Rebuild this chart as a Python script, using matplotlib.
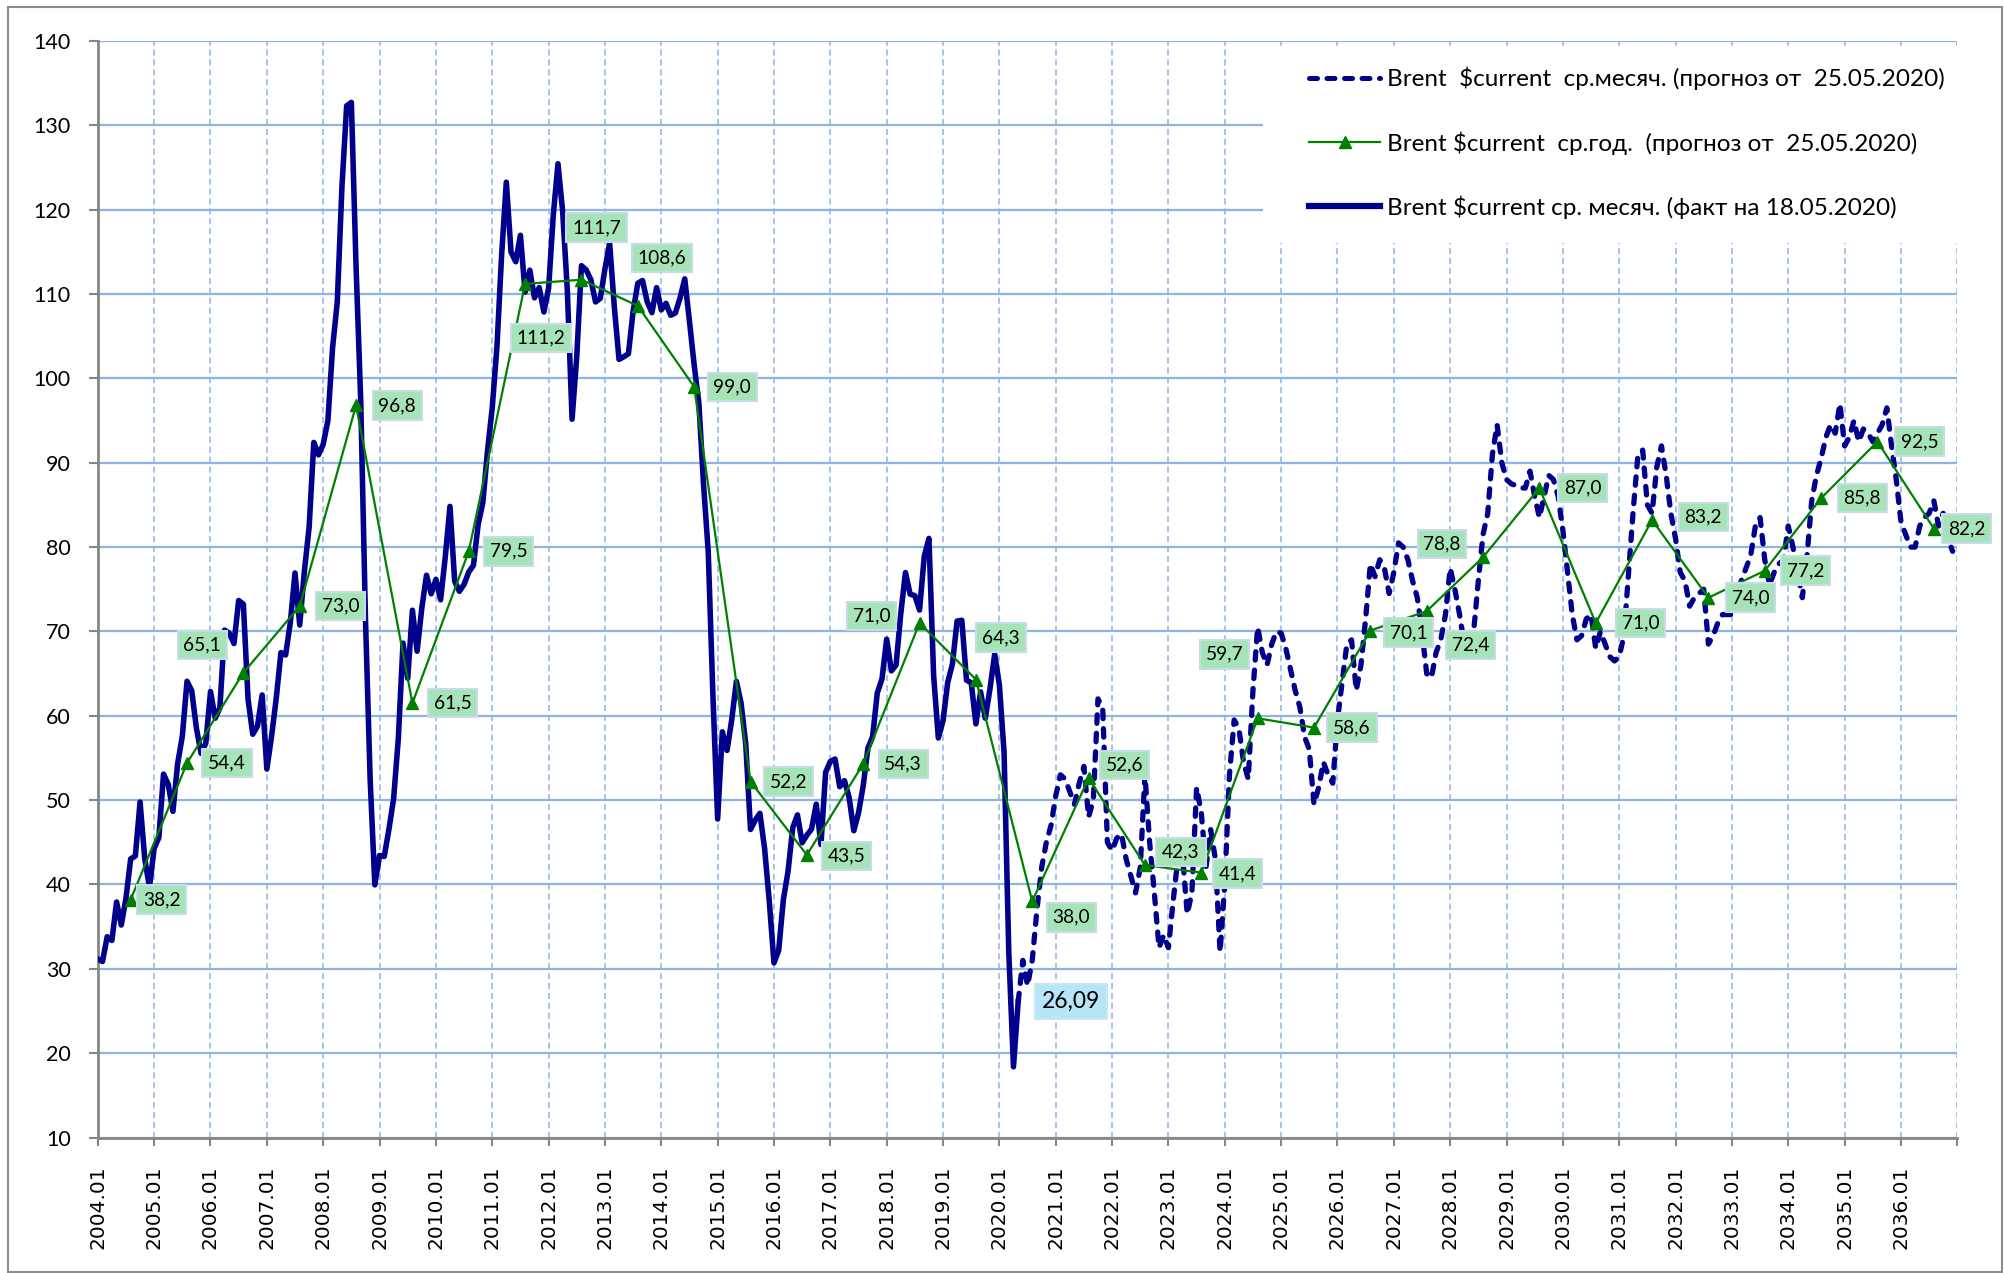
import numpy as np
import matplotlib
matplotlib.use("Agg")
import matplotlib.pyplot as plt
from matplotlib.patches import Rectangle
from matplotlib.lines import Line2D

# ---------------- data ----------------
first_year = 2004
last_year = 2036

# actual monthly Brent, 2004.01 .. 2020.05
fact_monthly = [
    31.18, 30.87, 33.80, 33.36, 37.92, 35.19, 38.37, 43.03, 43.38, 49.77, 43.05, 39.66,
    44.28, 45.56, 53.08, 51.86, 48.67, 54.31, 57.58, 64.09, 62.98, 58.52, 55.53, 56.75,
    62.87, 59.71, 60.93, 70.16, 69.78, 68.56, 73.67, 73.23, 61.96, 57.81, 58.76, 62.47,
    53.68, 57.56, 62.05, 67.49, 67.21, 71.05, 76.93, 70.76, 77.17, 82.34, 92.41, 90.93,
    92.18, 94.99, 103.64, 109.07, 122.80, 132.32, 132.72, 113.24, 97.23, 71.58, 52.45, 39.95,
    43.44, 43.32, 46.54, 50.18, 57.30, 68.61, 64.44, 72.51, 67.65, 72.77, 76.66, 74.46,
    76.17, 73.75, 78.83, 84.82, 75.95, 74.76, 75.58, 77.04, 77.84, 82.67, 85.28, 91.45,
    96.52, 103.72, 114.64, 123.26, 114.99, 113.83, 116.97, 110.22, 112.83, 109.55, 110.77, 107.87,
    110.69, 119.33, 125.45, 119.75, 110.34, 95.16, 102.62, 113.36, 112.86, 111.71, 109.06, 109.49,
    112.96, 116.05, 108.47, 102.25, 102.56, 102.92, 107.93, 111.28, 111.60, 109.08, 107.79, 110.76,
    108.12, 108.90, 107.48, 107.76, 109.54, 111.80, 106.77, 101.61, 97.09, 87.43, 79.44, 62.34,
    47.76, 58.10, 55.89, 59.52, 64.08, 61.48, 56.56, 46.52, 47.62, 48.43, 44.27, 38.01,
    30.70, 32.18, 38.21, 41.58, 46.74, 48.25, 44.95, 45.84, 46.57, 49.52, 44.73, 53.31,
    54.58, 54.87, 51.59, 52.31, 50.33, 46.37, 48.48, 51.70, 56.15, 57.51, 62.71, 64.37,
    69.08, 65.32, 66.02, 72.11, 76.98, 74.41, 74.25, 72.53, 78.89, 81.03, 64.75, 57.36,
    59.41, 63.96, 66.14, 71.23, 71.32, 64.22, 63.92, 59.04, 62.83, 59.71, 63.21, 67.31,
    63.65, 55.66, 32.01, 18.38, 26.09,
]

# forecast monthly Brent, 2020.05 .. 2036.12
forecast_monthly = [
    26.1, 31, 28, 31, 37, 42, 45, 47,
    50.5, 53, 52.5, 51, 49.5, 52, 54, 48, 50, 62, 61, 45,
    44, 45.5, 46, 43, 41, 39, 42, 53, 45, 39, 32.5, 34,
    32.5, 38, 43, 43.5, 36.5, 39, 51.5, 48.5, 42, 46.5, 43, 32,
    40, 53, 59.5, 58.5, 54.5, 52.5, 63, 70.5, 67.5, 66, 68.5, 70,
    69.8, 68, 65.5, 63, 61, 57.5, 56, 49.5, 51.5, 54.5, 53, 52,
    59.5, 64, 68.5, 69, 63, 66, 71.5, 78, 76.5, 78.5, 77.5, 74.5,
    77, 80.5, 80, 78.5, 76, 74, 70, 65, 64.5, 67.5, 69, 72,
    77.5, 75, 72, 68.5, 67.5, 70, 76, 81.5, 84, 91, 94.5, 90,
    88, 87.5, 87.3, 87, 87, 89, 86, 83.5, 86, 88.5, 88, 86,
    82, 77, 72, 69, 69.5, 71.5, 72, 68, 70, 68.5, 67, 66.5,
    67, 69.5, 77, 84.5, 91, 91.5, 85, 84, 89.5, 92, 88.5, 84,
    81, 77, 76, 73, 74, 74.5, 75, 68.5, 69.5, 71, 72, 72,
    72, 74, 76, 77.5, 79, 82.5, 83.5, 78.5, 75.5, 77, 78, 78.5,
    82.5, 80, 77, 74, 79, 85.5, 88.5, 90.5, 93, 94.5, 93.5, 97,
    92, 93, 95, 92.5, 94, 93.5, 92.5, 93.5, 94.5, 96.5, 92, 88,
    83, 81.5, 80, 80, 82.5, 83.5, 84, 85.5, 82.5, 84, 81, 79.5,
]

annual_years = list(range(2004, 2037))
annual_avg = [38.2, 54.4, 65.1, 73.0, 96.8, 61.5, 79.5, 111.2, 111.7, 108.6, 99.0,
              52.2, 43.5, 54.3, 71.0, 64.3, 38.0, 52.6, 42.3, 41.4, 59.7, 58.6,
              70.1, 72.4, 78.8, 87.0, 71.0, 83.2, 74.0, 77.2, 85.8, 92.5, 82.2]
last_fact_label = "26,09"

legend_labels = [
    "Brent  $current  ср.месяч. (прогноз от  25.05.2020)",
    "Brent $current  ср.год.  (прогноз от  25.05.2020)",
    "Brent $current ср. месяч. (факт на 18.05.2020)",
]

# ---------------- layout / style ----------------
# label offsets (pixels, label centre relative to point)
label_offsets = [(31, 0), (40, 0), (-41, 28), (41, 0), (41, 0), (40, 0), (40, 0),
                 (16, -54), (15, 52), (24, 48), (38, 0), (38, 0), (40, -1), (40, 0),
                 (-48, 7), (25, 42), (39, -16), (36, 13), (36, 13), (36, -1), (-33, 64),
                 (38, 0), (38, -2), (44, -34), (-41, 13), (43, 0), (45, 0), (51, 3),
                 (42, 0), (41, 0), (41, 0), (42, 0), (33, 0)]

NAVY = "#00008C"
GREEN = "#008000"
GRID = "#8EB4E3"
AXGRAY = "#868686"
MAIN_FONT = ["Lato", "DejaVu Sans"]

plt.rcParams["font.family"] = MAIN_FONT

fig = plt.figure(figsize=(20.04, 12.73), dpi=100)
L, R, T, B = 97.8 / 2004, 1957.3 / 2004, 1 - 41 / 1273, 1 - 1137.5 / 1273
ax = fig.add_axes([L, B, R - L, T - B])

n_months = (last_year - first_year + 1) * 12
x_fact = np.arange(len(fact_monthly))
x_fc = np.arange(n_months - len(forecast_monthly), n_months)
x_ann = (np.array(annual_years) - first_year) * 12 + 7

ax.plot(x_fc, forecast_monthly, color=NAVY, lw=3.8, dashes=(1.6, 1.9),
        dash_capstyle="round", solid_capstyle="round", zorder=4)
ax.plot(x_fact, fact_monthly, color=NAVY, lw=4.0, solid_joinstyle="round", zorder=5)
ax.plot(x_ann, annual_avg, color=GREEN, lw=1.6, marker="^", markersize=9, zorder=6)

box_kw = dict(boxstyle="square,pad=0.3", facecolor="#a6e4b8", edgecolor="#c8dbe9", lw=1.5)
for xv, yv, (dx, dy) in zip(x_ann, annual_avg, label_offsets):
    txt = f"{yv:.1f}".replace(".", ",")
    ax.annotate(txt, (xv, yv), xytext=(dx, dy), textcoords="offset pixels",
                ha="center", va="center", fontsize=13.8, color="black",
                bbox=box_kw, zorder=7, annotation_clip=False)

ax.annotate(last_fact_label, (x_fact[-1], fact_monthly[-1]), xytext=(53, 0),
            textcoords="offset pixels", ha="center", va="center", fontsize=16.5,
            bbox=dict(boxstyle="square,pad=0.3", facecolor="#b5e5f7", edgecolor="#c8e6f4", lw=1.5),
            zorder=7)

# axes
ax.set_xlim(0, n_months)
ax.set_ylim(10, 140)
ax.set_yticks(np.arange(10, 141, 10))
xt = np.arange(0, n_months + 1, 12)
ax.set_xticks(xt)
ax.set_xticklabels([f"{first_year + i}.01" if v < n_months else "" for i, v in enumerate(xt)],
                   rotation=90, fontfamily="DejaVu Sans", fontsize=14.5)
ax.tick_params(axis="y", labelsize=15.5, direction="out", length=6.5, width=1.5,
               color=AXGRAY, pad=13)
ax.tick_params(axis="x", direction="out", length=6, width=1.5, color=AXGRAY, pad=14)
for s in ["top", "right"]:
    ax.spines[s].set_visible(False)
for s in ["left", "bottom"]:
    ax.spines[s].set_color(AXGRAY)
    ax.spines[s].set_linewidth(2)
ax.set_axisbelow(True)
ax.yaxis.grid(True, color=GRID, lw=1.6, ls="-")
ax.xaxis.grid(True, color=GRID, lw=1.1, ls=(0, (4, 2.5)))

# legend background
ax.add_patch(Rectangle((0.6266, 0.8158), 1 - 0.6266, 0.9945 - 0.8158,
                       transform=ax.transAxes, facecolor="white", edgecolor="none", zorder=2))
handles = [
    Line2D([], [], color=NAVY, lw=3.6, dashes=(1.6, 1.9), dash_capstyle="round"),
    Line2D([], [], color=GREEN, lw=1.6, marker="^", markersize=8),
    Line2D([], [], color=NAVY, lw=4.5),
]
leg = ax.legend(handles, legend_labels, loc="upper left", bbox_to_anchor=(0.6514, 0.9763),
                frameon=False, fontsize=17.5, handlelength=2.92, handletextpad=0.29,
                labelspacing=1.67, borderpad=0, borderaxespad=0)
leg.set_zorder(8)

fig.add_artist(Rectangle((0.004, 0.001), 0.995, 0.9937, transform=fig.transFigure,
                         fill=False, edgecolor="#8c8c8c", lw=1.5))

fig.savefig("out.png", dpi=100)
